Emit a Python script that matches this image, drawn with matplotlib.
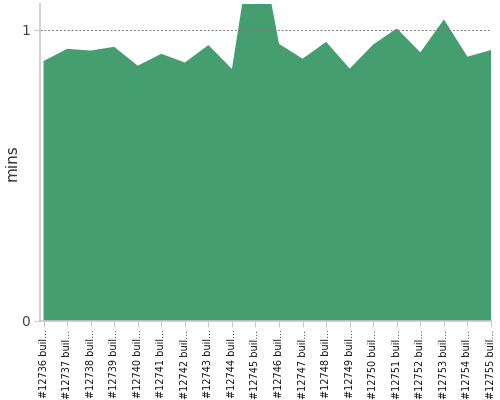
import matplotlib
matplotlib.use("Agg")
import matplotlib.pyplot as plt

builds = [f"#{n} buil..." for n in range(12736, 12756)]
minutes = [0.893, 0.935, 0.929, 0.942, 0.877, 0.918, 0.888, 0.948, 0.866, 1.38,
           0.952, 0.901, 0.959, 0.867, 0.950, 1.005, 0.923, 1.036, 0.908, 0.931]
y_ticks = [0, 1]

fig = plt.figure(figsize=(5, 4), dpi=100)
ax = fig.add_axes([0.08, 0.1975, 0.902, 0.7925])

x = list(range(len(builds)))
ax.fill_between(x, minutes, 0, color='#459e6f', linewidth=0, zorder=1)

ax.set_xlim(-0.15, len(builds) - 1)
ax.set_ylim(0, 1.089)
ax.set_yticks(y_ticks)
ax.set_yticklabels([str(t) for t in y_ticks], fontsize=10, color='#444444')
ax.set_xticks(x)
ax.set_xticklabels(builds, rotation=90, fontsize=7, color='#111111')
ax.tick_params(axis='x', length=4, color='#cccccc', pad=2)
ax.tick_params(axis='y', length=4, color='#cccccc', pad=3)

ax.axhline(1, color='#777777', linestyle=(0, (2, 2)), linewidth=0.7, zorder=2)

for side in ['top', 'right']:
    ax.spines[side].set_visible(False)
for side in ['left', 'bottom']:
    ax.spines[side].set_color('#c8c8c8')
    ax.spines[side].set_linewidth(1.2)

ax.set_ylabel("mins", fontsize=11, color='#333333')
ax.yaxis.set_label_coords(-0.046, 0.5)

fig.savefig("out.png", dpi=100)
